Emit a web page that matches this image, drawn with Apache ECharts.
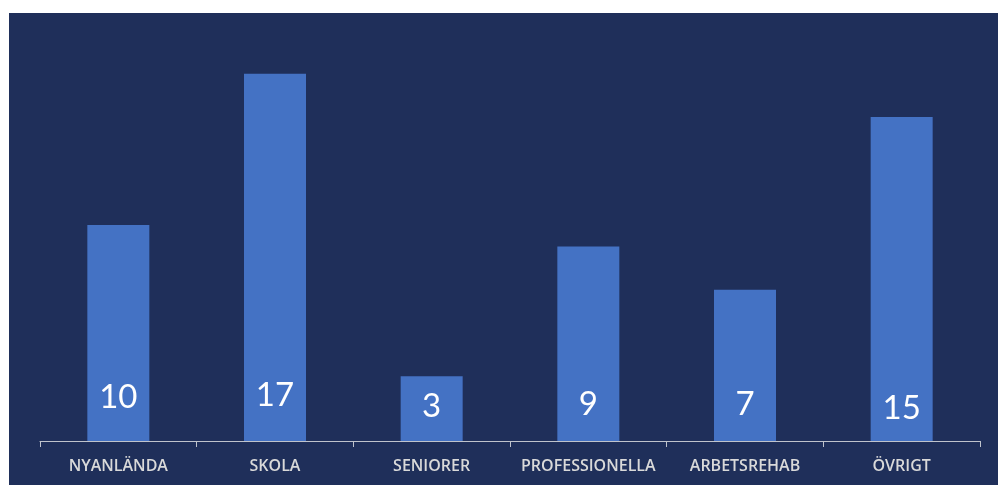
<!DOCTYPE html>
<html>
<head>
<meta charset="utf-8">
<script src="https://cdn.jsdelivr.net/npm/echarts@6/dist/echarts.min.js"></script>
<style>html,body{margin:0;padding:0;background:#fff}#c{width:998px;height:485px}</style>
</head>
<body>
<div id="c"></div>
<script>
const categories = ['NYANLÄNDA', 'SKOLA', 'SENIORER', 'PROFESSIONELLA', 'ARBETSREHAB', 'ÖVRIGT'];
const values = [10, 17, 3, 9, 7, 15];
// label distance from the bar base (style only)
const labelLift = [27, 29, 18, 20, 20, 16];

const chart = echarts.init(document.getElementById('c'));
chart.setOption({
  backgroundColor: '#ffffff',
  animation: false,
  graphic: [{
    type: 'rect', left: 9, top: 13, z: -10,
    shape: { width: 989, height: 472 },
    style: { fill: '#1f2f5a' }
  }],
  grid: { left: 40, right: 18, top: 9, bottom: 44 },
  xAxis: {
    type: 'category',
    data: categories,
    boundaryGap: true,
    axisLine: { lineStyle: { color: '#bfc3cc', width: 1 } },
    axisTick: { show: true, length: 6, alignWithLabel: false, lineStyle: { color: '#bfc3cc' } },
    axisLabel: { color: '#d9d9d9', fontFamily: 'Open Sans', fontSize: 16, fontWeight: 600, margin: 17, interval: 0 }
  },
  yAxis: {
    type: 'value', min: 0, max: 20, show: false,
    splitLine: { show: false }
  },
  series: [{
    type: 'bar',
    barWidth: 62,
    itemStyle: { color: '#4472c4' },
    data: values.map((v, i) => ({
      value: v,
      label: { distance: labelLift[i] }
    })),
    label: {
      show: true,
      position: 'insideBottom',
      color: '#ffffff',
      fontFamily: 'Lato',
      fontSize: 33
    }
  }]
});
</script>
</body>
</html>
